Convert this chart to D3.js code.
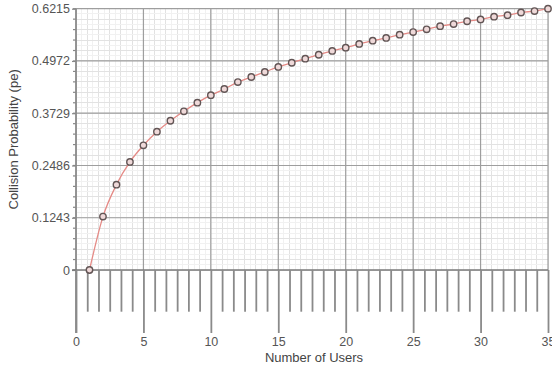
<!DOCTYPE html>
<html><head><meta charset="utf-8">
<script src="https://cdn.jsdelivr.net/npm/d3@7"></script>
<style>
html,body{margin:0;padding:0;background:#fff;}
svg{display:block;font-family:"Liberation Sans",Arial,sans-serif;}
</style></head>
<body><svg id="c" width="552" height="371"></svg>
<script>
const users = d3.range(1, 36);
const pe = [0, 0.127, 0.203, 0.257, 0.2966, 0.329, 0.355, 0.3775, 0.398, 0.4158,
  0.4305, 0.447, 0.459, 0.471, 0.483, 0.493, 0.5027, 0.512, 0.521, 0.5289,
  0.5376, 0.5455, 0.552, 0.5598, 0.566, 0.5725, 0.580, 0.585, 0.5916, 0.596,
  0.6026, 0.606, 0.6125, 0.6158, 0.6215];
const xTicks = [0, 5, 10, 15, 20, 25, 30, 35];
const yTicks = [0, 0.1243, 0.2486, 0.3729, 0.4972, 0.6215];
const yTickLabels = ["0", "0.1243", "0.2486", "0.3729", "0.4972", "0.6215"];
const xTitle = "Number of Users";
const yTitle = "Collision Probability (pe)";

const svg = d3.select("#c");
const x = d3.scaleLinear().domain([0, 35]).range([76, 548]);
const y = d3.scaleLinear().domain([0, 0.6215]).range([270, 8.7]);
const y0 = y(0), yTop = y(0.6215);
const xStep = 5, yStep = 0.1243;

// fine grid
const g = svg.append("g");
const xFine = d3.range(0, 35 + 1e-9, xStep / 12);
const yFine = d3.range(0, 0.6215 + 1e-9, yStep / 10);
g.selectAll(".vf").data(xFine).join("line")
  .attr("x1", d => x(d)).attr("x2", d => x(d)).attr("y1", yTop).attr("y2", y0)
  .attr("stroke", (d, i) => i % 2 === 0 ? "#e2e2e2" : "#f1f1f1").attr("stroke-width", 1)
  .attr("shape-rendering", "crispEdges");
g.selectAll(".hf").data(yFine).join("line")
  .attr("x1", x(0)).attr("x2", x(35)).attr("y1", d => y(d)).attr("y2", d => y(d))
  .attr("stroke", (d, i) => i % 2 === 0 ? "#e2e2e2" : "#f1f1f1").attr("stroke-width", 1)
  .attr("shape-rendering", "crispEdges");
// major grid
g.selectAll(".vm").data(xTicks.slice(1)).join("line")
  .attr("x1", d => x(d)).attr("x2", d => x(d)).attr("y1", yTop).attr("y2", y0)
  .attr("stroke", "#9e9e9e").attr("stroke-width", 1.2);
g.selectAll(".hm").data(yTicks.slice(1)).join("line")
  .attr("x1", x(0)).attr("x2", x(35)).attr("y1", d => y(d)).attr("y2", d => y(d))
  .attr("stroke", "#9e9e9e").attr("stroke-width", 1.2);

// y axis
const yAxis = d3.axisLeft(y).tickValues(yTicks).tickFormat((d, i) => yTickLabels[i]).tickSize(4).tickPadding(2);
const ya = svg.append("g").attr("transform", `translate(${x(0)},0)`).call(yAxis);
ya.select(".domain").remove();
ya.selectAll("line").attr("stroke", "#888").attr("stroke-width", 1.2);
ya.selectAll("text").attr("fill", "#555").attr("font-size", 12.5)
  .attr("font-family", '"Liberation Sans",Arial,sans-serif');
// y minor ticks
const yMinor = d3.range(0, 0.6215 + 1e-9, yStep / 5);
svg.append("g").selectAll("line").data(yMinor).join("line")
  .attr("x1", x(0) - 3).attr("x2", x(0)).attr("y1", d => y(d)).attr("y2", d => y(d))
  .attr("stroke", "#888").attr("stroke-width", 1.2);
// y axis line extended to bottom major tick
svg.append("line").attr("x1", x(0)).attr("x2", x(0)).attr("y1", yTop).attr("y2", 333)
  .attr("stroke", "#8a8a8a").attr("stroke-width", 1.8);

// zero line
svg.append("line").attr("x1", x(0) - 4).attr("x2", x(35)).attr("y1", y0).attr("y2", y0)
  .attr("stroke", "#7a7a7a").attr("stroke-width", 1.5);

// x axis ticks (hanging below zero line)
const xMinor = d3.range(0, 35 + 1e-9, xStep / 6).filter((d, i) => i % 6 !== 0);
const xAxisMinor = d3.axisBottom(x).tickValues(xMinor).tickFormat("").tickSize(311.7 - y0);
const xm = svg.append("g").attr("transform", `translate(0,${y0})`).call(xAxisMinor);
xm.select(".domain").remove();
xm.selectAll("line").attr("stroke", "#8a8a8a").attr("stroke-width", 1.8);
const xAxisMajor = d3.axisBottom(x).tickValues(xTicks).tickFormat(d3.format("d")).tickSize(333 - y0).tickPadding(4);
const xa = svg.append("g").attr("transform", `translate(0,${y0})`).call(xAxisMajor);
xa.select(".domain").remove();
xa.selectAll("line").attr("stroke", "#8a8a8a").attr("stroke-width", 1.8);
xa.selectAll("text").attr("fill", "#555").attr("font-size", 12.5)
  .attr("font-family", '"Liberation Sans",Arial,sans-serif');

// line
const data = users.map((u, i) => ({u, v: pe[i]}));
svg.append("path").datum(data)
  .attr("d", d3.line().x(d => x(d.u)).y(d => y(d.v)).curve(d3.curveMonotoneX))
  .attr("fill", "none").attr("stroke", "#e58a86").attr("stroke-width", 1.3);
svg.append("g").selectAll("circle").data(data).join("circle")
  .attr("cx", d => x(d.u)).attr("cy", d => y(d.v)).attr("r", 3.2)
  .attr("fill", "#efd9d9").attr("stroke", "#625555").attr("stroke-width", 1.4);

// titles
svg.append("text").attr("x", (x(0) + x(35)) / 2 + 2).attr("y", 362)
  .attr("text-anchor", "middle").attr("font-size", 13).attr("fill", "#444").text(xTitle);
svg.append("text").attr("transform", `translate(18,${(yTop + y0) / 2}) rotate(-90)`)
  .attr("text-anchor", "middle").attr("font-size", 13).attr("fill", "#444").text(yTitle);
</script></body></html>
